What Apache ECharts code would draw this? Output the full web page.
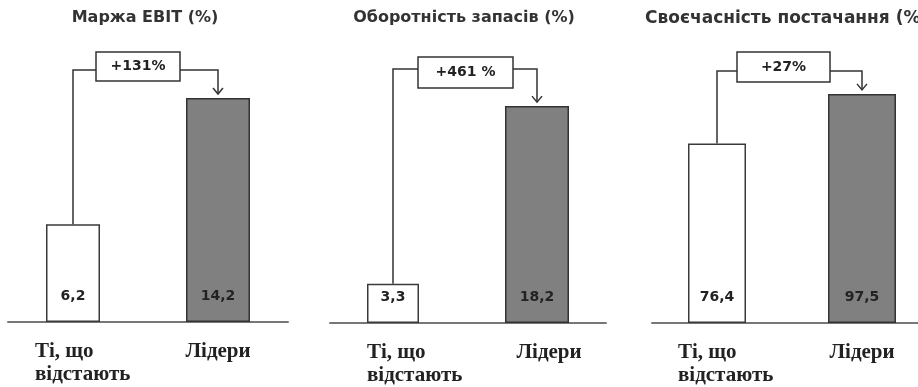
<!DOCTYPE html>
<html>
<head>
<meta charset="utf-8">
<script src="https://cdn.jsdelivr.net/npm/echarts@6/dist/echarts.min.js"></script>
<style>
  html, body { margin: 0; padding: 0; background: #fff; }
  #chart { width: 918px; height: 387px; }
</style>
</head>
<body>
<div id="chart"></div>
<script>
// Three benchmark panels: laggards vs leaders
const panelTitles = ['Маржа EBIT (%)', 'Оборотність запасів (%)', 'Своєчасність постачання (%)'];
const categories = ['Ті, що\nвідстають', 'Лідери'];
const laggardValues = [6.2, 3.3, 76.4];
const leaderValues = [14.2, 18.2, 97.5];
const gapLabels = ['+131%', '+461 %', '+27%'];

// Geometry and styling for each panel
const panelLayout = [
  { left: 8,   width: 280, top: 38, height: 284, yMax: 18,  lagW: 54, leadW: 64,
    titleX: 145, titleAlign: 'center', titleSize: 16, lineY: 70, boxDx: 23, boxW: 84, boxTop: 52, boxH: 29,
    lagPad: -43, leadPad: 0 },
  { left: 330, width: 276, top: 37, height: 286, yMax: 24,  lagW: 52, leadW: 64,
    titleX: 464, titleAlign: 'center', titleSize: 16, lineY: 69, boxDx: 25, boxW: 95, boxTop: 57, boxH: 31,
    lagPad: -32, leadPad: 24 },
  { left: 652, width: 280, top: 41, height: 282, yMax: 120, lagW: 58, leadW: 68,
    titleX: 645, titleAlign: 'left', titleSize: 17, lineY: 71, boxDx: 20, boxW: 93, boxTop: 52, boxH: 30,
    lagPad: -44, leadPad: 0 }
];

const SANS = 'DejaVu Sans';
const SERIF = 'Liberation Serif';
const INK = '#333';

const fmt = v => v.toFixed(1).replace('.', ',');

function connectorRenderer(cfg, text) {
  return function (params, api) {
    const lagTop = api.coord([api.value(0), api.value(1)]);
    const leadTop = api.coord([api.value(2), api.value(3)]);
    // the laggard bar sits left-aligned with the wider leader bar slot
    const x0 = lagTop[0] + (cfg.lagW - cfg.leadW) / 2;
    const y0 = lagTop[1];
    const x1 = leadTop[0];
    const tip = leadTop[1] - 4;
    const boxL = x0 + cfg.boxDx;
    const boxR = boxL + cfg.boxW;
    const line = { stroke: INK, lineWidth: 1.5, fill: null };
    return {
      type: 'group',
      children: [
        { type: 'polyline', shape: { points: [[x0, y0], [x0, cfg.lineY], [boxL, cfg.lineY]] }, style: line },
        { type: 'polyline', shape: { points: [[boxR, cfg.lineY], [x1, cfg.lineY], [x1, tip]] }, style: line },
        { type: 'polyline', shape: { points: [[x1 - 5, tip - 6], [x1, tip], [x1 + 5, tip - 6]] }, style: line },
        { type: 'rect', shape: { x: boxL, y: cfg.boxTop, width: cfg.boxW, height: cfg.boxH },
          style: { fill: '#fff', stroke: INK, lineWidth: 1.5 } },
        { type: 'text', x: boxL + cfg.boxW / 2, y: cfg.boxTop + cfg.boxH / 2,
          style: { text: text, align: 'center', verticalAlign: 'middle',
                   font: 'bold 14px "' + SANS + '"', fill: '#222' } }
      ]
    };
  };
}

const grids = [], xAxes = [], yAxes = [], series = [], titles = [];

panelLayout.forEach((cfg, i) => {
  titles.push({
    text: panelTitles[i], left: cfg.titleX, top: 10, textAlign: cfg.titleAlign, padding: 0,
    textStyle: { fontFamily: SANS, fontWeight: 'bold', fontSize: cfg.titleSize, color: '#333' }
  });
  grids.push({ left: cfg.left, top: cfg.top, width: cfg.width, height: cfg.height,
               outerBoundsMode: 'none', containLabel: false });
  xAxes.push({
    type: 'category', gridIndex: i,
    data: [
      { value: categories[0], textStyle: { align: 'left', padding: [0, 0, 0, cfg.lagPad] } },
      { value: categories[1], textStyle: { align: 'center', padding: [0, 0, 0, cfg.leadPad] } }
    ],
    axisLine: { show: true, lineStyle: { color: '#777', width: 2 } },
    axisTick: { show: false },
    axisLabel: { interval: 0, margin: 18, fontFamily: SERIF, fontWeight: 'bold',
                 fontSize: 21, lineHeight: 23, color: '#222', hideOverlap: false }
  });
  yAxes.push({ type: 'value', gridIndex: i, min: 0, max: cfg.yMax, show: false,
               splitLine: { show: false } });

  const valueLabel = {
    show: true, position: 'insideBottom', distance: 19,
    formatter: p => fmt(p.value),
    fontFamily: SANS, fontWeight: 'bold', fontSize: 14, color: '#222'
  };
  series.push({
    type: 'bar', xAxisIndex: i, yAxisIndex: i, barWidth: cfg.lagW, barGap: '-100%',
    data: [laggardValues[i], '-'],
    itemStyle: { color: '#fff', borderColor: '#3a3a3a', borderWidth: 1.5 },
    label: valueLabel, z: 2
  });
  series.push({
    type: 'bar', xAxisIndex: i, yAxisIndex: i, barWidth: cfg.leadW, barGap: '-100%',
    data: ['-', leaderValues[i]],
    itemStyle: { color: '#808080', borderColor: '#333', borderWidth: 1.5 },
    label: valueLabel, z: 2
  });
  series.push({
    type: 'custom', xAxisIndex: i, yAxisIndex: i, z: 5, clip: false,
    data: [[0, laggardValues[i], 1, leaderValues[i]]],
    renderItem: connectorRenderer(cfg, gapLabels[i])
  });
});

const chart = echarts.init(document.getElementById('chart'), null, { renderer: 'canvas' });
chart.setOption({
  backgroundColor: '#fff',
  animation: false,
  title: titles,
  grid: grids,
  xAxis: xAxes,
  yAxis: yAxes,
  series: series
});
</script>
</body>
</html>
